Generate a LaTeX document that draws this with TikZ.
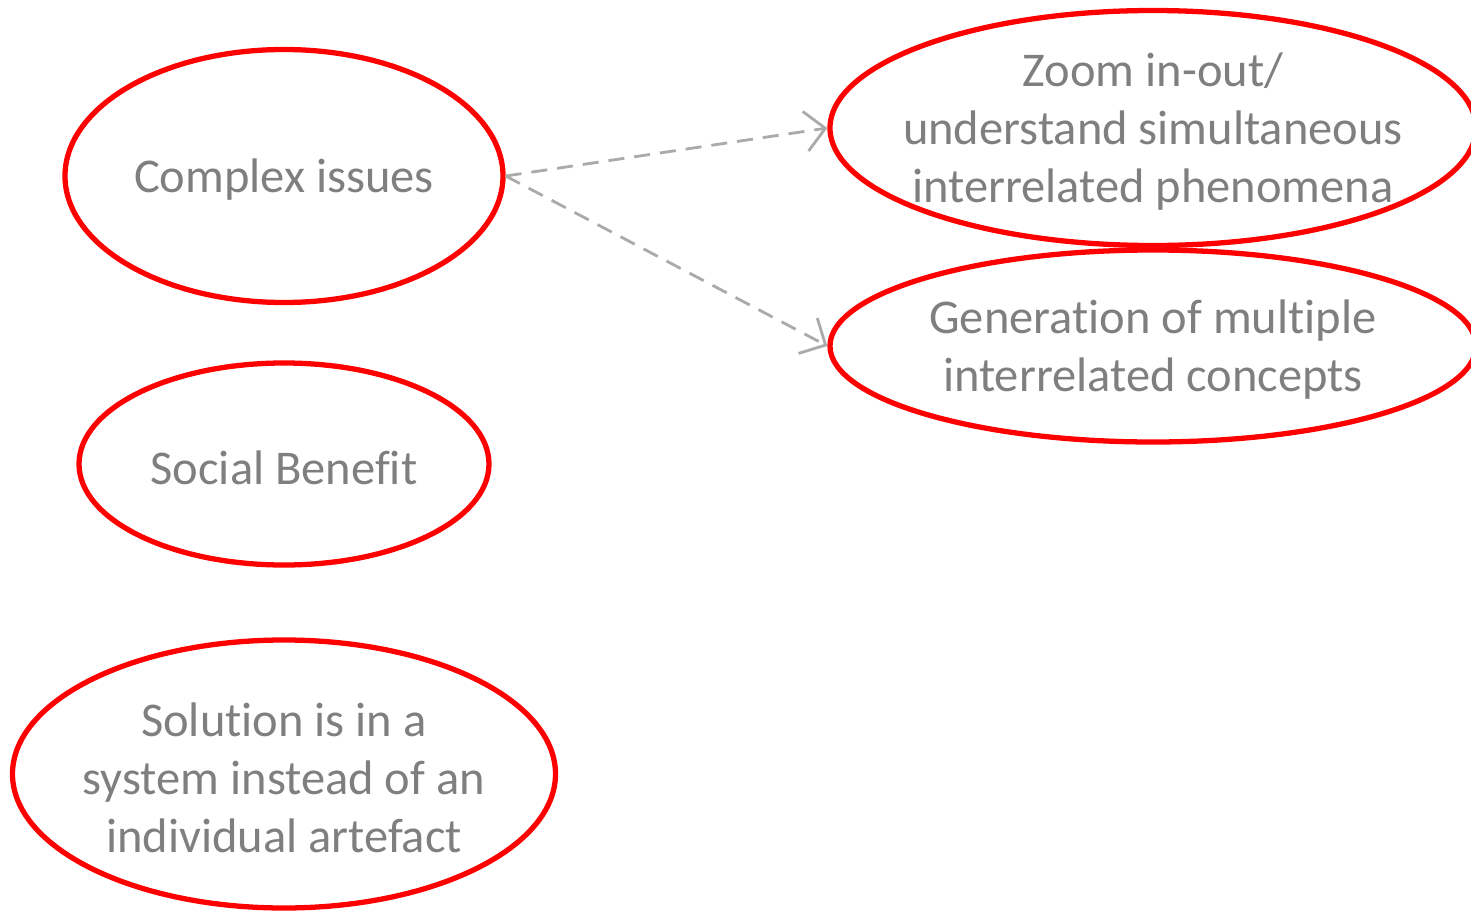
\documentclass[tikz,border=0pt]{standalone}
\usepackage{fontspec}
\setmainfont{Carlito}[Ligatures={NoCommon}]
\usetikzlibrary{positioning,arrows.meta,shapes.geometric}
\definecolor{txtgrey}{RGB}{127,127,127}
\definecolor{arrowgrey}{RGB}{170,170,170}
\tikzset{
  issue/.style={draw=red, ellipse, line width=1.5pt, inner sep=0pt},
  issuetext/.style={text=txtgrey, align=center, yshift=-0.04cm, font=\fontsize{13.8pt}{16.5pt}\selectfont},
  linkarrow/.style={-{Straight Barb[length=2mm, width=4mm]}, draw=arrowgrey, dash pattern=on 1.6mm off 1mm, line width=0.8pt}
}

\begin{document}
\begin{tikzpicture}
  \useasboundingbox (0,0) rectangle (14.71,9.11);
  % left column
  \node[issue, minimum width=4.38cm, minimum height=2.53cm,
        label={[issuetext]center:Complex issues}] (complex) at (2.84,7.35) {};
  \node[issue, minimum width=4.10cm, minimum height=2.02cm,
        label={[issuetext]center:Social Benefit}] (social) at (2.84,4.47) {};
  \node[issue, minimum width=5.43cm, minimum height=2.68cm,
        label={[issuetext]center:Solution is in a\\system instead of an\\individual artefact}] (solution) at (2.84,1.37) {};
  % right column
  \node[issue, minimum width=6.46cm, minimum height=2.35cm,
        label={[issuetext]center:Zoom in-out/\\understand simultaneous\\interrelated phenomena}] (zoom) at (11.53,7.83) {};
  \node[issue, minimum width=6.46cm, minimum height=1.92cm,
        label={[issuetext]center:Generation of multiple\\interrelated concepts}] (generation) at (11.53,5.65) {};
  % links
  \draw[linkarrow] (complex.east) -- (zoom.west);
  \draw[linkarrow] (complex.east) -- (generation.west);
\end{tikzpicture}
\end{document}
